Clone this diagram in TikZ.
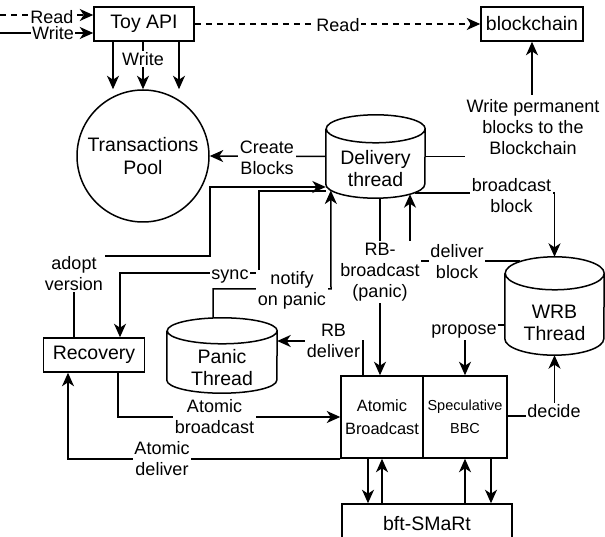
\documentclass[tikz,border=0pt]{standalone}
\usepackage{fontspec}
\setmainfont{Liberation Sans}
\usetikzlibrary{arrows.meta}

\tikzstyle{box} = [rectangle,draw,line width=1.5pt,inner sep=0pt,align=center,font=\fontsize{19.5}{23}\selectfont]
\tikzstyle{poolnode} = [circle,draw,line width=1.5pt,minimum size=132pt,inner sep=0pt,align=center,font=\fontsize{19.5}{23}\selectfont]
\tikzstyle{store} = [rectangle,inner sep=0pt]
\tikzstyle{storetext} = [inner sep=0pt,align=center,font=\fontsize{19.5}{22}\selectfont]
\tikzstyle{lbl} = [fill=white,inner sep=1.5pt,align=center,font=\fontsize{18}{21}\selectfont]
\tikzstyle{flow} = [->,>={Stealth[length=13.5pt,width=12pt,inset=4pt]},line width=1.5pt]
\tikzstyle{readflow} = [dash pattern=on 6pt off 5pt]

% outline of a thread drum: node, x radius, y radius
\newcommand{\drum}[3]{%
  \draw[line width=1.5pt] ([yshift=-#3]#1.north west) -- ([yshift=#3]#1.south west)
    arc[start angle=180,end angle=360,x radius=#2,y radius=#3]
    -- ([yshift=-#3]#1.north east)
    arc[start angle=0,end angle=360,x radius=#2,y radius=#3];}

\begin{document}
\begin{tikzpicture}[x=1pt,y=-1pt]
\useasboundingbox (0,0) rectangle (605,537);

% parts of the system
\node[box,minimum width=100pt,minimum height=34pt] (api) at (144,24) {Toy API};
\node[box,minimum width=102pt,minimum height=34pt] (bc) at (532,24) {blockchain};
\node[poolnode] (pool) at (143,156) {Transactions\\Pool};
\node[store,minimum width=99pt,minimum height=83pt,
  label={[storetext,yshift=-12.5pt]center:{Delivery\\thread}}] (dt) at (375.5,156.5) {};
\drum{dt}{49.5pt}{14pt}
\node[box,minimum width=101pt,minimum height=34pt] (rec) at (94,355) {Recovery};
\node[store,minimum width=110pt,minimum height=75pt,
  label={[storetext,yshift=-12pt]center:{Panic\\Thread}}] (pt) at (222,355.5) {};
\drum{pt}{55pt}{13pt}
\node[store,minimum width=99pt,minimum height=98pt,
  label={[storetext,yshift=-16.5pt]center:{WRB\\Thread}}] (wrb) at (554.5,306) {};
\drum{wrb}{49.5pt}{16.5pt}
\node[box,minimum width=82pt,minimum height=82pt,font=\fontsize{16.4}{23}\selectfont] (ab) at (382,417) {Atomic\\Broadcast};
\node[box,minimum width=84pt,minimum height=82pt,font=\fontsize{14.5}{23}\selectfont] (bbc) at (465,417) {Speculative\\BBC};
\node[box,minimum width=170pt,minimum height=40pt] (bft) at (427,524) {bft-SMaRt};

\coordinate (rin) at (0,15);
\coordinate (win) at (0,33);

% connectors
\draw[flow,readflow] (rin) -- ([yshift=9pt]api.west);
\draw[flow] (win) -- ([yshift=-9pt]api.west);
\draw[flow] ([xshift=-31pt]api.south) -- ([xshift=-31pt]api.south |- pool.north);
\draw[flow] (api.south -| pool.north) -- (pool.north);
\draw[flow] ([xshift=35pt]api.south) -- ([xshift=35pt]api.south |- pool.north);
\draw[flow,readflow] (api.east) -- (bc.west);
\draw[flow] (dt.east) -| (bc.south);
\draw[flow] (dt.west) -- (pool.east);
\draw[flow] ([xshift=-20pt]rec.north) |- (210,256) |- ([yshift=-30.5pt]dt.west);
\draw[flow] ([yshift=-34.5pt]dt.west) -| (259,273) -| ([xshift=26pt]rec.north);
\draw[flow] ([xshift=-9pt]pt.north) |- (331,289) -- ([xshift=5pt,yshift=-34pt]dt.west);
\draw[flow] ([xshift=-2pt]ab.north |- dt.south) -- ([xshift=-2pt]ab.north);
\draw[flow] ([xshift=-19pt]ab.north) |- ([yshift=14.5pt]pt.east);
\draw[flow] ([xshift=39.5pt,yshift=5pt]dt.south) -| (wrb.north);
\draw[flow] ([xshift=-34.5pt,yshift=-4pt]wrb.north) -| ([xshift=34.5pt,yshift=4pt]dt.south);
\draw[flow] ([yshift=-19pt]wrb.west) -| (bbc.north);
\draw[flow] ([yshift=1pt]bbc.east) -| (wrb.south);
\draw[flow] ([xshift=24pt]rec.south) |- (ab.west);
\draw[flow] (ab.south west) -| ([xshift=-26pt]rec.south);
\draw[flow] ([xshift=-14pt]ab.south) -- ([xshift=-14pt]ab.south |- bft.north);
\draw[flow] (ab.south |- bft.north) -- (ab.south);
\draw[flow] (bbc.south |- bft.north) -- (bbc.south);
\draw[flow] ([xshift=26pt]bbc.south) -- ([xshift=26pt]bbc.south |- bft.north);

% labels on the connectors
\node[lbl] (lread) at (52,16.7) {Read};
\node[lbl] (lwrite) at (53,33.5) {Write};
\node[lbl] (lw) at (143,59) {Write};
\node[lbl] (lr) at (338,25.3) {Read};
\node[lbl,inner ysep=4pt] (lperm) at (533,127) {Write permanent\\blocks to the\\Blockchain};
\node[lbl] (lcreate) at (267,157.5) {Create\\Blocks};
\node[lbl] (ladopt) at (74,273.5) {adopt\\version};
\node[lbl] (lsync) at (230,277) {sync};
\node[lbl] (lnotify) at (292,290) {notify\\on panic};
\node[lbl] (lrbb) at (380,272) {RB-\\broadcast\\(panic)};
\node[lbl] (lbb) at (511.5,195.5) {broadcast\\block};
\node[lbl] (ldb) at (457,262) {deliver\\block};
\node[lbl] (lrbd) at (333.5,341) {RB\\deliver};
\node[lbl] (lprop) at (464,332) {propose};
\node[lbl] (ldec) at (554,411.5) {decide};
\node[lbl] (lab) at (214.5,417) {Atomic\\broadcast};
\node[lbl] (lad) at (162,459) {Atomic\\deliver};
\end{tikzpicture}
\end{document}
